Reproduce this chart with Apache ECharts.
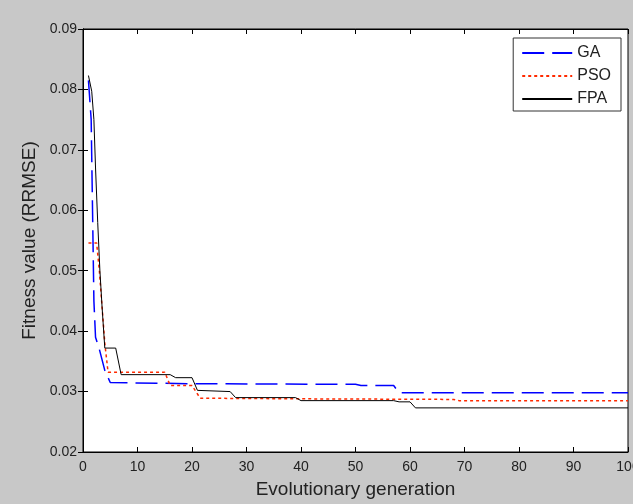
<!DOCTYPE html>
<html>
<head>
<meta charset="utf-8">
<script src="https://cdn.jsdelivr.net/npm/echarts@6/dist/echarts.min.js"></script>
<style>
  html, body { margin: 0; padding: 0; background: #c8c8c8; }
  #main { width: 633px; height: 504px; }
</style>
</head>
<body>
<div id="main"></div>
<script>
// data: [generation, fitness]
var gaData = [[1,0.0815],[1.5,0.075],[2,0.045],[2.3,0.039],[3,0.037],[4,0.0335],[5,0.0315],[20,0.0313],[50,0.0312],[51,0.031],[57,0.031],[58,0.0298],[100,0.0298]];
var psoData = [[1,0.0546],[2.5,0.0546],[3,0.05],[4,0.038],[4.6,0.0332],[15,0.0332],[16,0.031],[20,0.031],[21.5,0.0289],[40,0.0288],[68,0.0287],[69,0.0285],[100,0.0285]];
var fpaData = [[1,0.0823],[1.6,0.0797],[2,0.075],[2.3,0.067],[2.7,0.058],[3.1,0.05],[3.5,0.044],[4,0.0372],[6,0.0372],[7,0.0328],[16,0.0328],[17,0.0323],[20,0.0323],[21,0.0302],[27,0.030],[28,0.029],[39,0.029],[40,0.0285],[57,0.0285],[58,0.0283],[60,0.0283],[61,0.0273],[100,0.0273]];
var seriesNames = ['GA', 'PSO', 'FPA'];

var myChart = echarts.init(document.getElementById('main'));

var axisFont = { fontFamily: 'Liberation Sans', fontSize: 14, color: '#222' };
var titleFont = { fontFamily: 'Liberation Sans', fontSize: 19, color: '#222' };

var option = {
    backgroundColor: '#c8c8c8',
    animation: false,
    grid: {
        left: 83, top: 29, right: 5, bottom: 52,
        outerBoundsMode: 'none',
        containLabel: false,
        show: true, backgroundColor: '#fff', borderColor: '#000', borderWidth: 1
    },
    legend: {
        data: seriesNames,
        orient: 'vertical',
        right: 12, top: 38,
        backgroundColor: '#fff',
        borderColor: '#333', borderWidth: 1,
        borderRadius: 0,
        padding: [7, 10, 4, 8],
        itemWidth: 50, itemHeight: 10, itemGap: 7,
        itemStyle: { opacity: 0 },
        textStyle: { fontFamily: 'Liberation Sans', fontSize: 16, color: '#222' }
    },
    xAxis: [{
        type: 'value', min: 0, max: 100, interval: 10,
        name: 'Evolutionary generation', nameLocation: 'middle', nameGap: 28,
        nameTextStyle: titleFont,
        axisLine: { lineStyle: { color: '#000' } },
        axisTick: { inside: true, length: 5, lineStyle: { color: '#000' } },
        axisLabel: Object.assign({ margin: 8 }, axisFont),
        splitLine: { show: false }
    }, {
        type: 'value', min: 0, max: 100, interval: 10, position: 'top',
        axisLine: { lineStyle: { color: '#000' } },
        axisTick: { inside: true, length: 5, lineStyle: { color: '#000' } },
        axisLabel: { show: false },
        splitLine: { show: false }
    }],
    yAxis: [{
        type: 'value', min: 0.02, max: 0.09, interval: 0.01,
        name: 'Fitness value (RRMSE)', nameLocation: 'middle', nameGap: 41,
        nameTextStyle: titleFont,
        axisLine: { show: true, lineStyle: { color: '#000' } },
        axisTick: { show: true, inside: true, length: 5, lineStyle: { color: '#000' } },
        axisLabel: Object.assign({ margin: 6, formatter: function (v) { return v.toFixed(2); } }, axisFont),
        splitLine: { show: false }
    }, {
        type: 'value', min: 0.02, max: 0.09, interval: 0.01, position: 'right',
        axisLine: { show: true, lineStyle: { color: '#000' } },
        axisTick: { show: true, inside: true, length: 5, lineStyle: { color: '#000' } },
        axisLabel: { show: false },
        splitLine: { show: false }
    }],
    series: [{
        name: 'GA', type: 'line', data: gaData, symbol: 'none',
        lineStyle: { color: '#0000ff', width: 1.5, type: [22, 8] },
        itemStyle: { color: '#0000ff' }
    }, {
        name: 'PSO', type: 'line', data: psoData, symbol: 'none',
        lineStyle: { color: '#ff2a00', width: 1.5, type: [3, 3] },
        itemStyle: { color: '#ff2a00' }
    }, {
        name: 'FPA', type: 'line', data: fpaData, symbol: 'none',
        lineStyle: { color: '#000', width: 1 },
        itemStyle: { color: '#000' }
    }]
};

myChart.setOption(option);
</script>
</body>
</html>
